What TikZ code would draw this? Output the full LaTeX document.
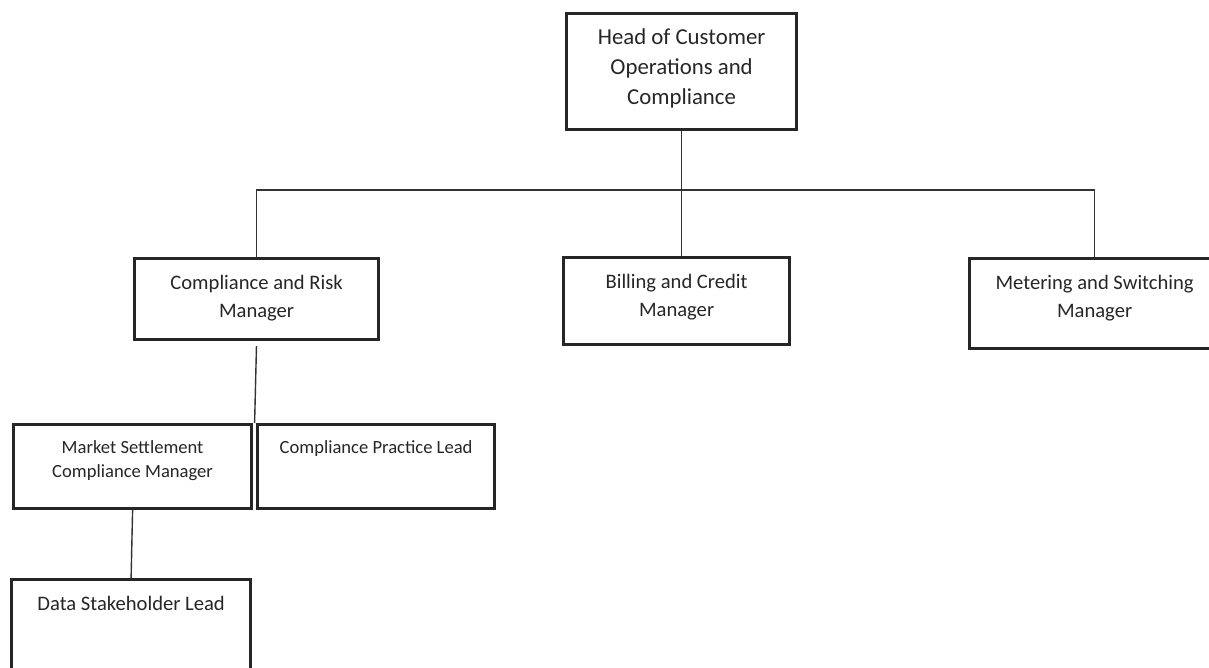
\documentclass[tikz,border=0pt]{standalone}
\usepackage{fontspec}
\setmainfont{Carlito}
\usepackage{tikz}
\usetikzlibrary{calc}

\newcommand{\postbox}[4]{\parbox[c][#2][t]{#1}{\centering\vspace*{#3}#4}}

\begin{document}
\begin{tikzpicture}[x=1pt, y=-1pt,
    post/.style={draw=black!85, line width=3.2pt, inner sep=0pt, anchor=north west, text=black!85, font=\fontsize{20.6}{27.5}\selectfont},
    smallpost/.style={post, font=\fontsize{18.6}{24}\selectfont},
    link/.style={draw=black!80, line width=1.4pt}]
\useasboundingbox (0,0) rectangle (1209,667);
\node[post, font=\fontsize{22.8}{30}\selectfont] (head) at (565,12) {\postbox{230pt}{116pt}{15.5pt}{Head of Customer\\Operations and\\Compliance}};
\node[post] (risk) at (133,257) {\postbox{244pt}{81pt}{17pt}{Compliance and Risk\\Manager}};
\node[post] (billing) at (562,256) {\postbox{226pt}{87pt}{17pt}{Billing and Credit\\Manager}};
\node[post] (meter) at (968,257) {\postbox{250pt}{90pt}{17pt}{Metering and Switching\\Manager}};
\node[smallpost] (market) at (12,423) {\postbox{238pt}{84pt}{16pt}{Market Settlement\\Compliance Manager}};
\node[smallpost] (practice) at (256,423) {\postbox{237pt}{84pt}{16pt}{Compliance Practice Lead}};
\node[post] (data) at (10,578) {\postbox{239pt}{120pt}{17pt}{Data Stakeholder Lead}};
\coordinate (bus) at (0,190);
% reporting lines
\draw[link] (head.south) -- (head.south |- billing.north);
\draw[link] (risk.north) -- (risk.north |- bus) -| (meter.north);
\draw[link, shorten <=5pt] (risk.south) -- ($(market.north east)!0.5!(practice.north west)$);
\draw[link] (market.south) -- (data.north);
\end{tikzpicture}
\end{document}
